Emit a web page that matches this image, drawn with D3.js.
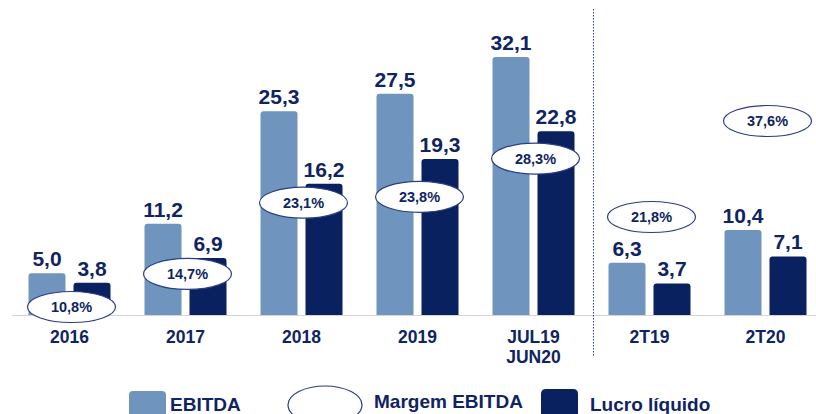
<!DOCTYPE html>
<html><head><meta charset="utf-8">
<script src="https://cdn.jsdelivr.net/npm/d3@7"></script>
<style>body{margin:0;background:#fff}svg{display:block;font-family:"Liberation Sans",Arial,sans-serif}</style>
</head><body>
<svg id="c" width="816" height="414"></svg>
<script>
const categories = ["2016","2017","2018","2019","JUL19\nJUN20","2T19","2T20"];
const sections = [0,0,0,0,0,1,1];
const ebitda = [5.0, 11.2, 25.3, 27.5, 32.1, 6.3, 10.4];
const lucro = [3.8, 6.9, 16.2, 19.3, 22.8, 3.7, 7.1];
const margem = [10.8, 14.7, 23.1, 23.8, 28.3, 21.8, 37.6];
const seriesNames = ["EBITDA", "Lucro líquido"];
const legendLabels = ["EBITDA", "Margem EBITDA", "Lucro líquido"];

const C_LIGHT = "#6f94be", C_DARK = "#0a2160", C_TEXT = "#0f2462", C_ELL = "#2b3d86";
const fmt = v => d3.format(".1f")(v).replace(".", ",");
const svg = d3.select("#c");

const x = d3.scaleBand().domain(categories).range([11.5, 823.5]).padding(0);
const x1 = d3.scaleBand().domain(seriesNames).range([17, 99]).paddingInner(8/45).paddingOuter(0);
const y = d3.scaleLinear().domain([0, 40]).range([313, -6]);
const yM = [d3.scaleLinear().domain([0, 40]).range([398.6, 59.4]),
            d3.scaleLinear().domain([0, 40]).range([349.5, 106.4])];

const rows = categories.map((c, i) => ({c, i, vals: [ebitda[i], lucro[i]]}));

function topRounded(x0, y0, w, h, r) {
  return `M${x0},${y0+h}V${y0+r}Q${x0},${y0} ${x0+r},${y0}H${x0+w-r}Q${x0+w},${y0} ${x0+w},${y0+r}V${y0+h}Z`;
}

// bars
const g = svg.append("g");
rows.forEach(r => {
  r.vals.forEach((v, k) => {
    const bx = x(r.c) + x1(seriesNames[k]);
    const top = y(v), bottom = y(0) + 3;
    g.append("path").attr("d", topRounded(bx, top, x1.bandwidth(), bottom - top, 3))
      .attr("fill", k === 0 ? C_LIGHT : C_DARK);
    g.append("text").attr("x", bx + x1.bandwidth()/2).attr("y", top - 7)
      .attr("text-anchor", "middle").attr("font-size", 21).attr("font-weight", "bold")
      .attr("fill", C_TEXT).text(fmt(v));
  });
});

// baseline
svg.append("line").attr("x1", 12).attr("x2", 816).attr("y1", y(0)+2.5).attr("y2", y(0)+2.5)
  .attr("stroke", "#d4d4d4").attr("stroke-width", 1);

// separator
const sepX = (x(categories[4]) + x.bandwidth() + x(categories[5])) / 2 + 2;
svg.append("line").attr("x1", sepX).attr("x2", sepX).attr("y1", 9).attr("y2", 357)
  .attr("stroke", C_ELL).attr("stroke-width", 1).attr("stroke-dasharray", "1.5,1.5");

// margin ellipses
rows.forEach(r => {
  const cx = x(r.c) + x.bandwidth()/2 + 2;
  const cy = yM[sections[r.i]](margem[r.i]);
  svg.append("ellipse").attr("cx", cx).attr("cy", cy).attr("rx", 44).attr("ry", 15.5)
    .attr("fill", "#fff").attr("stroke", C_ELL).attr("stroke-width", 1.2);
  svg.append("text").attr("x", cx).attr("y", cy).attr("dy", "0.36em")
    .attr("text-anchor", "middle").attr("font-size", 14.5).attr("font-weight", "bold")
    .attr("fill", C_TEXT).text(fmt(margem[r.i]) + "%");
});

// category labels
rows.forEach(r => {
  const t = svg.append("text").attr("x", x(r.c) + x.bandwidth()/2).attr("y", 343)
    .attr("text-anchor", "middle").attr("font-size", 17.5).attr("font-weight", "bold").attr("fill", C_TEXT);
  r.c.split("\n").forEach((line, j) => {
    t.append("tspan").attr("x", x(r.c) + x.bandwidth()/2).attr("dy", j === 0 ? 0 : 20).text(line);
  });
});

// legend
const lg = svg.append("g");
lg.append("path").attr("d", topRounded(129, 391, 37, 30, 4)).attr("fill", C_LIGHT);
lg.append("text").attr("x", 170).attr("y", 411).attr("font-size", 19).attr("font-weight", "bold").attr("fill", C_TEXT).text(legendLabels[0]);
lg.append("ellipse").attr("cx", 325).attr("cy", 405).attr("rx", 37).attr("ry", 19)
  .attr("fill", "#fff").attr("stroke", C_ELL).attr("stroke-width", 1.2);
lg.append("text").attr("x", 374).attr("y", 408).attr("font-size", 19).attr("font-weight", "bold").attr("fill", C_TEXT).text(legendLabels[1]);
lg.append("path").attr("d", topRounded(541, 389, 37, 30, 5)).attr("fill", C_DARK);
lg.append("text").attr("x", 590).attr("y", 411).attr("font-size", 19).attr("font-weight", "bold").attr("fill", C_TEXT).text(legendLabels[2]);
</script>
</body></html>
